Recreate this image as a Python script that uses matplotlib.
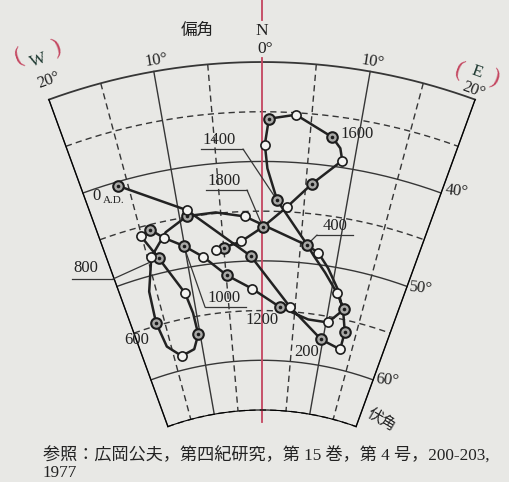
import numpy as np
import matplotlib
matplotlib.use("Agg")
import matplotlib.pyplot as plt
from matplotlib.lines import Line2D

# ---------------- data ----------------
# Path of the geomagnetic direction in time order (declination deg, E positive; inclination deg)
# kind: 'C' century point (double circle), 'H' half-century point (open circle), '' bend of the curve
path_year = [0, 50, 100, 150, 200, 250, 300, None, None, None, 350, 400,
             450, None, 500, None, 550, None, 600, None, 650, None, 700, None, 750,
             800, 850, 900, 950, 1000, 1050, 1100, 1150, 1200, None, 1250, 1300,
             1350, None, None, None, 1400, None, 1450, 1500, 1550, 1600, None, 1650,
             1700, 1750, 1800, 1850, 1900, 1950]
path_dec = [-16.1, -9.0, -1.5, 4.2, 9.7, 13.1, 13.2, 12.3, 10.9, 9.0, 7.4, 5.8,
            -2.1, -5.6, -9.1, -12.0, -14.5, -16.0, -16.3, -15.7, -13.7, -11.4, -10.3, -10.5, -11.1,
            -13.6, -15.1, -13.8, -12.4, -10.1, -7.8, -4.9, -1.4, 2.7, 7.2, 10.3, 12.3,
            10.8, 8.7, 6.9, 5.7, 1.8, 0.6, 0.3, 0.7, 3.4, 7.3, 8.3, 8.7,
            5.7, 3.0, 0.1, -2.7, -5.0, -6.0]
path_inc = [40.4, 44.3, 49.5, 54.5, 57.4, 58.0, 56.2, 54.3, 52.2, 50.2, 48.8, 48.2,
            45.5, 44.9, 44.9, 46.1, 48.2, 51.5, 54.7, 57.3, 58.6, 58.2, 56.8, 54.6, 52.5,
            48.5, 45.9, 45.5, 46.6, 47.8, 49.2, 51.3, 52.8, 54.6, 55.6, 55.6, 54.0,
            52.5, 50.7, 49.2, 48.0, 43.9, 40.7, 38.3, 35.7, 35.2, 37.1, 38.1, 39.3,
            42.0, 44.5, 46.6, 48.0, 48.5, 48.7]
path_kind = ['C', 'H', 'C', 'H', 'C', 'H', 'C', '', '', '', 'H', 'C',
             'H', '', 'C', '', 'H', '', 'C', '', 'H', '', 'C', '', 'H',
             'C', 'H', 'C', 'H', 'C', 'H', 'C', 'H', 'C', '', 'H', 'C',
             'H', '', '', '', 'C', '', 'H', 'C', 'H', 'C', '', 'H',
             'C', 'H', 'C', 'H', 'C', 'H']

# grid
dec_solid = [-20, -10, 10, 20]
dec_dashed = [-15, -5, 5, 15]
inc_solid = [30, 40, 50, 60]
inc_dashed = [35, 45, 55, 65]
dec_tick_labels = ['20°', '10°', '0°', '10°', '20°']
inc_tick_labels = ['40°', '50°', '60°']

# ---------------- style ----------------
W, H = 510, 482
BG = '#e8e8e5'
INK = '#222222'
GRID = '#363636'
RED = '#c4455f'
SERIF = ['Liberation Serif', 'DejaVu Serif']
CJK = ['Noto Sans CJK JP', 'DejaVu Sans']
MIXED = ['Liberation Serif', 'Noto Sans CJK JP']

fig = plt.figure(figsize=(W / 100, H / 100), dpi=100, facecolor=BG)
ax = fig.add_axes([48.9 / W, 1 - 457.4 / H, 426.2 / W, 426.2 / H], projection='polar')
ax.set_facecolor('none')
ax.set_theta_zero_location('N')
ax.set_theta_direction(-1)

def P(x, y):
    return (x / W, 1 - y / H)

th = np.deg2rad(np.linspace(-20, 20, 161))
for d in dec_solid:
    ax.plot(np.deg2rad([d, d]), [30, 65], color=GRID, lw=1.0, clip_on=False, zorder=1)
for d in dec_dashed:
    ax.plot(np.deg2rad([d, d]), [30, 65], color=GRID, lw=1.0, dashes=(4.5, 3), clip_on=False, zorder=1)
for i in inc_solid:
    ax.plot(th, np.full_like(th, i), color=GRID, lw=1.0 if i != 30 else 1.3, clip_on=False, zorder=1)
for i in inc_dashed:
    ax.plot(th, np.full_like(th, i), color=GRID, lw=1.0, dashes=(4.5, 3), clip_on=False, zorder=1)

# red north line (extends beyond the grid)
ax.plot([0, 0], [23.7, 25.8], color=RED, lw=1.3, clip_on=False, zorder=2)
ax.plot([0, 0], [29.6, 66.2], color=RED, lw=1.3, clip_on=False, zorder=2)

# curve
tr = np.deg2rad(path_dec)
ri = np.array(path_inc)
kind = np.array(path_kind)
ax.plot(tr, ri, color=INK, lw=1.8, solid_joinstyle='round', clip_on=False, zorder=3)
c = kind == 'C'
h = kind == 'H'
ax.plot(tr[c], ri[c], ls='none', marker='o', ms=7.6, mfc='#a9a9a7', mec='#1c1c1c', mew=1.5, zorder=5, clip_on=False)
ax.plot(tr[c], ri[c], ls='none', marker='o', ms=2.6, mfc='#1c1c1c', mec='#1c1c1c', mew=0, zorder=6, clip_on=False)
ax.plot(tr[h], ri[h], ls='none', marker='o', ms=6.6, mfc='#f3f3f1', mec='#1c1c1c', mew=1.2, zorder=5, clip_on=False)

ax.set_thetamin(-20)
ax.set_thetamax(20)
ax.set_ylim(65, 30)
ax.set_rorigin(92.67)
ax.grid(False)
ax.set_xticks([])
ax.set_yticks([])
for s in ax.spines.values():
    s.set_visible(False)

def T(x, y, s, size=12, fam=SERIF, rot=0, color=INK, ha='center', va='center'):
    fig.text(*P(x, y), s, fontsize=size, family=fam, rotation=rot, color=color,
             ha=ha, va=va, rotation_mode='anchor')

# axis texts
T(197, 30, '偏角', 12, CJK)
T(262, 31, 'N', 12.5)
T(265, 49, dec_tick_labels[2], 12.5)
T(49, 80, dec_tick_labels[0], 12, rot=20)
T(156, 60, dec_tick_labels[1], 12, rot=9)
T(373, 62, dec_tick_labels[3], 12, rot=-9)
T(474, 90, dec_tick_labels[4], 12, rot=-20)
T(19, 57, '(', 17, rot=20, color=RED)
T(38, 60, 'W', 12.5, rot=20, color='#1f3a32')
T(56, 48, ')', 17, rot=20, color=RED)
T(459, 70, '(', 17, rot=-20, color=RED)
T(477, 72, 'E', 12.5, rot=-20, color='#1f3a32')
T(494, 78, ')', 17, rot=-20, color=RED)
T(457, 191, inc_tick_labels[0], 12, rot=-6)
T(421, 288, inc_tick_labels[1], 12, rot=-6)
T(387, 380, inc_tick_labels[2], 12, rot=-6)
T(382, 420, '伏角', 11, CJK, rot=-30)

# epoch labels
def idx(year):
    return path_year.index(year)

def leader(x0, y0, year, shrink=4):
    k = idx(year)
    ax.annotate('', xy=(tr[k], ri[k]), xycoords='data', xytext=P(x0, y0),
                textcoords='figure fraction', annotation_clip=False,
                arrowprops=dict(arrowstyle='-', lw=0.9, color=GRID, shrinkA=0, shrinkB=shrink))

def underline(x0, x1, y):
    fig.add_artist(Line2D([x0 / W, x1 / W], [1 - y / H, 1 - y / H], color=GRID, lw=0.9))

T(97, 196, '0', 12)
T(114, 200, 'A.D.', 8)
T(219, 140, '1400', 12)
underline(201, 243, 149)
leader(243, 149, 1400)
T(224, 181, '1800', 12)
underline(206, 247, 190)
leader(247, 190, 1800)
T(357, 134, '1600', 12)
T(335, 226, '400', 12)
underline(317, 353, 235)
leader(317, 235, 400)
T(86, 268, '800', 12)
underline(72, 113, 279)
leader(113, 279, 800, shrink=5)
T(224, 298, '1000', 12)
underline(205, 246, 307)
leader(205, 307, 1000)
T(262, 320, '1200', 12)
T(137, 340, '600', 12)
T(307, 352, '200', 12)

# source note
T(43, 456, '参照：広岡公夫，第四紀研究，第 15 巻，第 4 号，200-203,', 12.3, MIXED, ha='left')
T(43, 473, '1977', 12.3, MIXED, ha='left')

fig.savefig('out.png', dpi=100, facecolor=BG)
